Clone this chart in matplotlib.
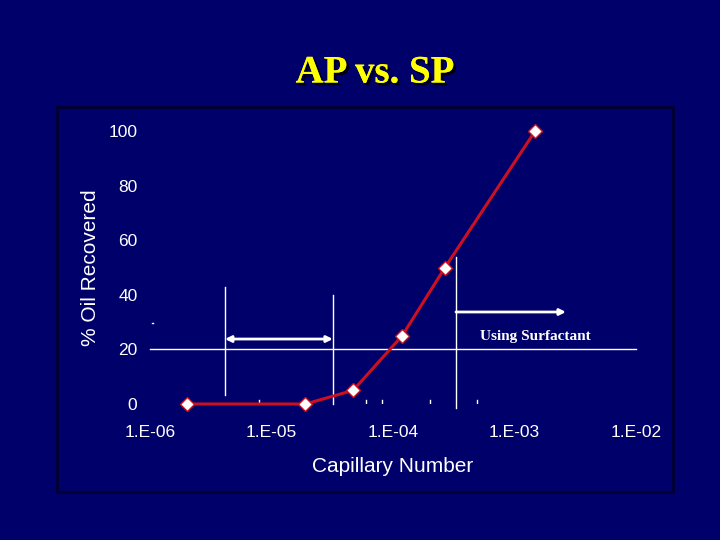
import matplotlib
matplotlib.use("Agg")
import matplotlib.pyplot as plt
import matplotlib.patheffects as pe
from matplotlib.patches import Rectangle

# Data
cap_number = [2.0e-6, 1.9e-5, 4.7e-5, 1.19e-4, 2.68e-4, 1.48e-3]
oil_recovered = [0, 0, 5, 25, 50, 100]

x_ticks = [1e-6, 1e-5, 1e-4, 1e-3, 1e-2]
x_tick_labels = ["1.E-06", "1.E-05", "1.E-04", "1.E-03", "1.E-02"]
y_ticks = [0, 20, 40, 60, 80, 100]

# Annotation geometry (data coords)
hline_y = 20
vlines_x = [4.14e-6, 3.2e-5, 3.3e-4]
vlines_ymin = [3.3, 0, -1.5]
vlines_ymax = [42.9, 40, 53.8]
double_arrow_x = [4.14e-6, 3.2e-5]
double_arrow_y = 23.8
right_arrow_x = [3.3e-4, 2.65e-3]
right_arrow_y = 33.7
surf_text_x, surf_text_y = 1.48e-3, 24.9
minor_marks_x = [7.9e-6, 6.0e-5, 8.1e-5, 2.0e-4, 4.9e-4]

bg = "#00006a"
fig = plt.figure(figsize=(7.2, 5.4), dpi=100, facecolor=bg)

# frame
fig.patches.append(Rectangle((57/720, 1-492/540), 616/720, 385/540,
                             transform=fig.transFigure, fill=False,
                             edgecolor="#000030", linewidth=2, zorder=0))

ax = fig.add_axes([150/720, 1-404/540, 486/720, 273/540])
ax.set_facecolor(bg)
ax.patch.set_alpha(0)
ax.set_xscale("log")
ax.set_xlim(1e-6, 1e-2)
ax.set_ylim(0, 100)
for s in ax.spines.values():
    s.set_visible(False)
ax.set_xticks(x_ticks)
ax.set_xticklabels(x_tick_labels)
ax.minorticks_off()
ax.set_yticks(y_ticks)
ax.tick_params(axis="both", length=0, colors="white", labelsize=12.5)
ax.tick_params(axis="x", pad=15)
ax.tick_params(axis="y", pad=9)
for lbl in ax.get_xticklabels() + ax.get_yticklabels():
    lbl.set_family(["Liberation Sans", "DejaVu Sans"])

ax.set_xlabel("Capillary Number", color="white", fontsize=15,
              family=["Liberation Sans", "DejaVu Sans"], labelpad=12)
ax.set_ylabel("% Oil Recovered", color="white", fontsize=15,
              family=["Liberation Sans", "DejaVu Sans"], labelpad=6)

# annotation lines
ax.axhline(hline_y, color="white", lw=1, clip_on=False)
for xv, y0, y1 in zip(vlines_x, vlines_ymin, vlines_ymax):
    ax.plot([xv, xv], [y0, y1], color="white", lw=1, clip_on=False)
ax.annotate("", xy=(double_arrow_x[1], double_arrow_y),
            xytext=(double_arrow_x[0], double_arrow_y),
            arrowprops=dict(arrowstyle="<|-|>", color="white", lw=2,
                            mutation_scale=9, shrinkA=0, shrinkB=0))
ax.annotate("", xy=(right_arrow_x[1], right_arrow_y),
            xytext=(right_arrow_x[0], right_arrow_y),
            arrowprops=dict(arrowstyle="-|>", color="white", lw=2,
                            mutation_scale=9, shrinkA=0, shrinkB=0))
ax.text(surf_text_x, surf_text_y, "Using Surfactant", color="white",
        fontsize=11, fontweight="bold", family=["Liberation Serif", "DejaVu Serif"],
        ha="center", va="center")
for xv in minor_marks_x:
    ax.plot([xv, xv], [0.2, 1.6], color="white", lw=1)
ax.plot([1.03e-6, 1.06e-6], [29.7, 29.7], color="white", lw=1, clip_on=False)

# data line
ax.plot(cap_number, oil_recovered, color="#cc1020", lw=2.2, zorder=5,
        marker="D", markersize=7, markerfacecolor="white",
        markeredgecolor="#cc1020", markeredgewidth=1, clip_on=False)

# title
fig.text(375/720, 1-73/540, "AP vs. SP", color="#ffff00", fontsize=28,
         fontweight="bold", family=["Liberation Serif", "DejaVu Serif"],
         ha="center", va="center",
         path_effects=[pe.withSimplePatchShadow(offset=(2, -2), shadow_rgbFace="black", alpha=0.8),
                       pe.Normal()])

fig.savefig("out.png", dpi=100, facecolor=bg)
